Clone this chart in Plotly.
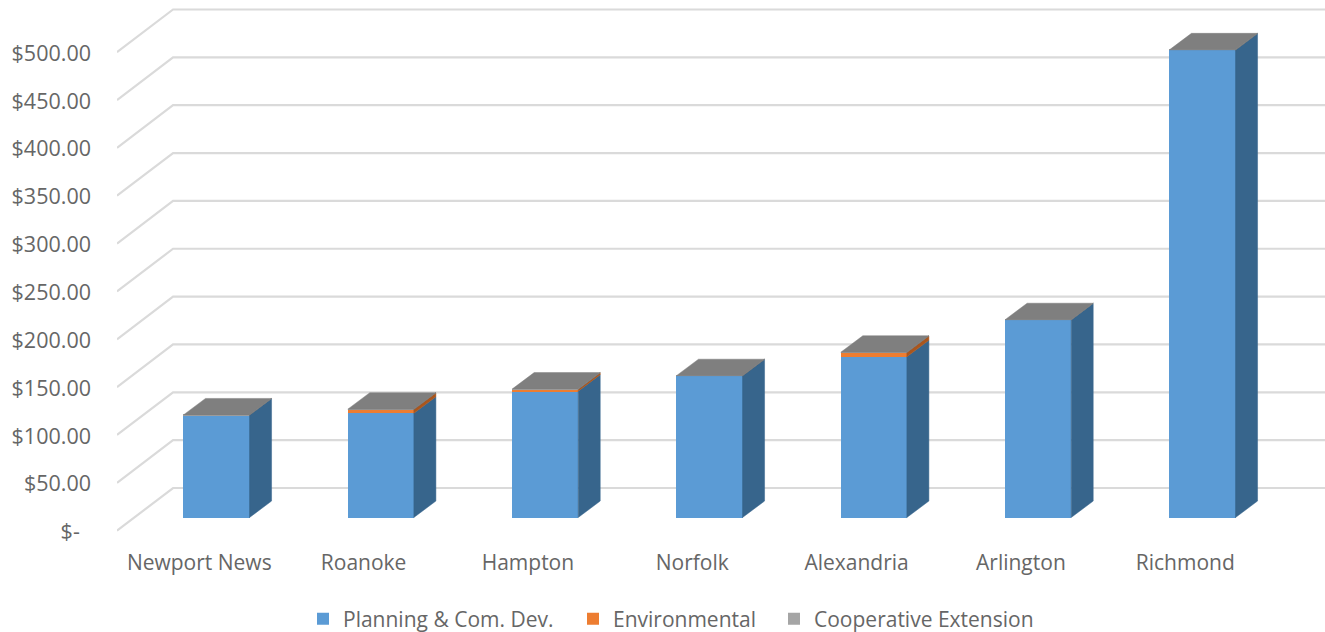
import plotly.graph_objects as go

categories = ["Newport News", "Roanoke", "Hampton", "Norfolk", "Alexandria", "Arlington", "Richmond"]
planning = [107.0, 109.0, 132.0, 148.0, 168.0, 206.5, 488.5]
environmental = [0.0, 4.0, 2.0, 0.0, 4.5, 0.0, 0.0]
cooperative = [0.2, 0.2, 0.2, 0.2, 0.2, 0.2, 0.2]
y_ticks = [0, 50, 100, 150, 200, 250, 300, 350, 400, 450, 500]
y_labels = ["$-\u00a0\u00a0", "$50.00", "$100.00", "$150.00", "$200.00", "$250.00",
            "$300.00", "$350.00", "$400.00", "$450.00", "$500.00"]

FONT = "Open Sans"
TXT = "#666666"
BAR_W = 0.402
DX, DY = 0.134, 17.2          # bar depth, in axis units
WALL_DX, WALL_DY = 0.341, 44.6  # chart-floor depth, in axis units
X0, X1 = -0.6055, 6.7455
xs = list(range(len(categories)))

series = [
    ("Planning & Com. Dev.", planning, "#5B9BD5", "#37658C", "legend"),
    ("Environmental", environmental, "#ED7D31", "#A9561E", "legend2"),
    ("Cooperative Extension", cooperative, "#A5A5A5", "#6E6E6E", "legend3"),
]

fig = go.Figure()

# walls and gridlines (y axis 1)
gx, gy = [], []
for v in y_ticks:
    gx += [X0, X0 + WALL_DX, X1, None]
    gy += [v, v + WALL_DY, v + WALL_DY, None]
fig.add_trace(go.Scatter(x=gx, y=gy, mode="lines", line=dict(color="#DADADA", width=2.2),
                         hoverinfo="skip", showlegend=False))

# front faces
for name, vals, col, _, leg in series:
    fig.add_trace(go.Bar(x=xs, y=vals, name=name, width=BAR_W, yaxis="y2", legend=leg,
                         marker=dict(color=col, line=dict(width=0))))

# side faces
bottoms = [0.0] * len(xs)
for name, vals, col, side, _ in series:
    sx, sy = [], []
    for i, (b, v) in enumerate(zip(bottoms, vals)):
        if v <= 0:
            continue
        r = i + BAR_W / 2
        sx += [r, r + DX, r + DX, r, r, None]
        sy += [b, b + DY, b + v + DY, b + v, b, None]
    fig.add_trace(go.Scatter(x=sx, y=sy, yaxis="y2", mode="lines", fill="toself", fillcolor=side,
                             line=dict(color=side, width=0.5), hoverinfo="skip", showlegend=False))
    bottoms = [b + v for b, v in zip(bottoms, vals)]

# top faces
tx, ty = [], []
for i, t in enumerate(bottoms):
    l, r = i - BAR_W / 2, i + BAR_W / 2
    tx += [l, r, r + DX, l + DX, l, None]
    ty += [t, t, t + DY, t + DY, t, None]
fig.add_trace(go.Scatter(x=tx, y=ty, yaxis="y2", mode="lines", fill="toself", fillcolor="#7F7F7F",
                         line=dict(color="#7F7F7F", width=0.5), hoverinfo="skip", showlegend=False))


def legend_at(px):
    return dict(xref="container", yref="container", x=px / 1325, xanchor="left", y=13 / 632, yanchor="middle",
                orientation="h", font=dict(size=21, color=TXT), bgcolor="rgba(0,0,0,0)", borderwidth=0)


fig.update_layout(
    width=1325, height=632, autosize=False,
    margin=dict(l=117, r=0, t=0, b=84, autoexpand=False),
    paper_bgcolor="white", plot_bgcolor="white",
    barmode="stack",
    font=dict(family=FONT, size=21, color=TXT),
    xaxis=dict(range=[X0, X1], tickmode="array", tickvals=[i - 0.105 for i in xs], ticktext=categories,
               showgrid=False, zeroline=False, showline=False, ticks="", automargin=False,
               tickfont=dict(size=21, color=TXT)),
    yaxis=dict(range=[-18.08, 554.5], tickmode="array", tickvals=y_ticks, ticktext=y_labels,
               showgrid=False, zeroline=False, showline=False, ticks="", ticklabelstandoff=25, automargin=False,
               ticklabelshift=1, tickfont=dict(size=21.5, color=TXT)),
    yaxis2=dict(range=[-31.87, 540.75], overlaying="y", visible=False, side="left"),
    legend=legend_at(303),
    legend2=legend_at(573),
    legend3=legend_at(774),
    showlegend=True,
)

fig.write_html("out.html", config=dict(displayModeBar=False), post_script="document.body.style.margin='0';")
